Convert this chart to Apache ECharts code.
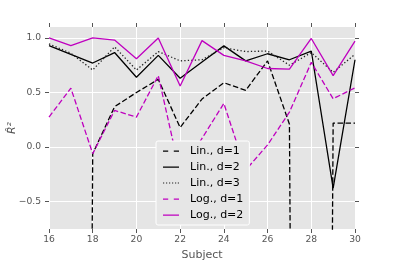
<!DOCTYPE html>
<html><head><meta charset="utf-8">
<script src="https://cdn.jsdelivr.net/npm/echarts@6/dist/echarts.min.js"></script>
<style>html,body{margin:0;padding:0;background:#fff}#c{width:395px;height:263px}</style>
</head><body><div id="c"></div>
<script>
// Data
const subjects = [16, 17, 18, 19, 20, 21, 22, 23, 24, 25, 26, 27, 28, 29, 30];
const linD1 = [-30, -30, -0.06, 0.37, 0.50, 0.62, 0.18, 0.44, 0.59, 0.52, 0.79, 0.21, -30, 0.22, 0.22];
const linD2 = [0.93, 0.85, 0.77, 0.866, 0.64, 0.84, 0.63, 0.78, 0.927, 0.79, 0.855, 0.80, 0.88, -0.375, 0.80];
const linD3 = [0.945, 0.86, 0.706, 0.918, 0.706, 0.875, 0.79, 0.80, 0.91, 0.875, 0.88, 0.75, 0.866, 0.685, 0.85];
const logD1 = [0.275, 0.54, -0.06, 0.336, 0.275, 0.655, -0.24, 0.08, 0.40, -0.21, 0.02, 0.32, 0.776, 0.443, 0.543];
const logD2 = [1.0, 0.93, 1.0, 0.98, 0.81, 1.0, 0.56, 0.975, 0.84, 0.79, 0.72, 0.715, 0.995, 0.655, 0.97];
const seriesNames = ['Lin., d=1', 'Lin., d=2', 'Lin., d=3', 'Log., d=1', 'Log., d=2'];
const xTicks = [16, 18, 20, 22, 24, 26, 28, 30];
const yTicks = [-0.5, 0.0, 0.5, 1.0];

const font = 'DejaVu Sans';
const grey = '#555555';
const magenta = '#bf00bf';
function pairs(v) { return subjects.map((s, i) => [s, v[i]]); }
function fmtY(v) { return (v < 0 ? '\u2212' : '') + Math.abs(v).toFixed(1); }

// legend icons: 16x14 box pinned by tiny corner specks, stroke in the middle
const pin = 'M0,0h0.01v0.01h-0.01z M15.99,13.99h0.01v0.01h-0.01z ';
const iconSolid = 'path://' + pin + 'M0,6.4h16v1.3h-16z';
const iconDash = 'path://' + pin + 'M0,6.4h5.2v1.3h-5.2z M10.8,6.4h5.2v1.3h-5.2z';
const iconDot = 'path://' + pin + 'M0,6.4h1.2v1.2h-1.2z M3,6.4h1.2v1.2h-1.2z M6,6.4h1.2v1.2h-1.2z M9,6.4h1.2v1.2h-1.2z M12,6.4h1.2v1.2h-1.2z M14.8,6.4h1.2v1.2h-1.2z';

const chart = echarts.init(document.getElementById('c'), null, { renderer: 'canvas' });
const lw = 1.3;
function mk(name, data, color, type) {
  return {
    name: name, type: 'line', data: pairs(data), showSymbol: false, symbol: 'none',
    lineStyle: { color: color, width: lw, type: type }, itemStyle: { color: color },
    clip: true, z: 2
  };
}
const option = {
  animation: false,
  backgroundColor: '#ffffff',
  grid: { left: 49, right: 40, top: 27, bottom: 34, show: true, backgroundColor: '#E5E5E5', borderWidth: 0, containLabel: false, outerBoundsMode: 'none' },
  xAxis: [{
    type: 'value', min: 16, max: 30, interval: 2, position: 'bottom',
    name: 'Subject', nameLocation: 'middle', nameGap: 21, nameMoveOverlap: false,
    nameTextStyle: { fontFamily: font, fontSize: 11, color: grey },
    axisLine: { show: false, onZero: false },
    axisTick: { show: true, length: 4, lineStyle: { color: grey, width: 1 } },
    axisLabel: { fontFamily: font, fontSize: 9.2, color: grey, margin: 6.5, customValues: xTicks },
    splitLine: { show: true, lineStyle: { color: '#ffffff', width: 1 } }
  }, {
    type: 'value', min: 16, max: 30, interval: 2, position: 'top',
    axisLine: { show: false, onZero: false },
    axisTick: { show: true, length: 4, lineStyle: { color: grey, width: 1 } },
    axisLabel: { show: false }, splitLine: { show: false }
  }],
  yAxis: [{
    type: 'value', min: -0.75, max: 1.1, position: 'left',
    name: 'R\u0302\u00b2', nameLocation: 'middle', nameGap: 31, nameRotate: 90, nameMoveOverlap: false,
    nameTextStyle: { fontFamily: font, fontSize: 11, color: grey, fontStyle: 'italic' },
    axisLine: { show: false, onZero: false },
    axisTick: { show: true, length: 4, lineStyle: { color: grey, width: 1 }, customValues: yTicks },
    axisLabel: { fontFamily: font, fontSize: 9.2, color: grey, margin: 8, customValues: yTicks, formatter: fmtY },
    splitLine: { show: true, lineStyle: { color: '#ffffff', width: 1 } }
  }, {
    type: 'value', min: -0.75, max: 1.1, position: 'right',
    axisLine: { show: false, onZero: false },
    axisTick: { show: true, length: 4, lineStyle: { color: grey, width: 1 }, customValues: yTicks },
    axisLabel: { show: false, customValues: yTicks }, splitLine: { show: false }
  }],
  legend: {
    orient: 'vertical', left: 156, top: 141,
    padding: [3, 6, 3, 7], itemWidth: 16, itemHeight: 14, itemGap: 2,
    backgroundColor: '#E6E6E6', borderColor: '#ffffff', borderWidth: 1, borderRadius: 2,
    textStyle: { fontFamily: font, fontSize: 11, color: '#000', padding: [0, 0, 0, 6] },
    data: [
      { name: seriesNames[0], icon: iconDash },
      { name: seriesNames[1], icon: iconSolid },
      { name: seriesNames[2], icon: iconDot },
      { name: seriesNames[3], icon: iconDash },
      { name: seriesNames[4], icon: iconSolid }
    ],
    z: 10
  },
  series: [
    mk(seriesNames[0], linD1, '#000000', [5.5, 2.5]),
    mk(seriesNames[1], linD2, '#000000', 'solid'),
    mk(seriesNames[2], linD3, '#222222', [1.3, 2.2]),
    mk(seriesNames[3], logD1, magenta, [5.5, 2.5]),
    mk(seriesNames[4], logD2, magenta, 'solid')
  ]
};
chart.setOption(option);
</script></body></html>
